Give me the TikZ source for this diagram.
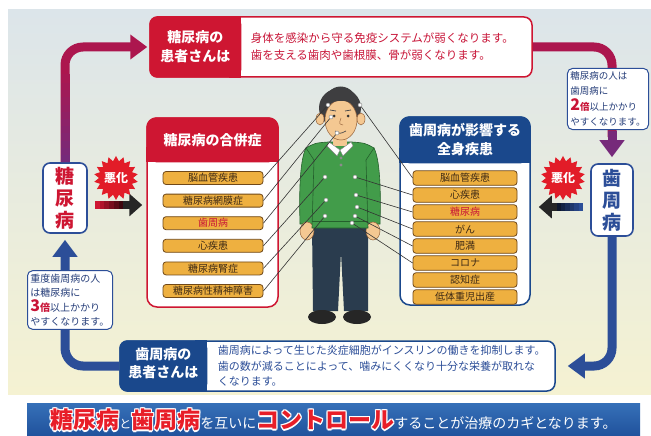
\documentclass[tikz,border=0pt]{standalone}
\usepackage{fontspec}
\setmainfont{Noto Sans CJK JP}
\usepackage{tikz}
\usetikzlibrary{arrows.meta, positioning, calc, shapes.geometric}

\definecolor{dmred}{RGB}{206, 22, 50}
\definecolor{txtred}{RGB}{200, 20, 55}
\definecolor{burstred}{RGB}{226, 28, 40}
\definecolor{bannerred}{RGB}{232, 30, 40}
\definecolor{pdblue}{RGB}{26, 72, 140}
\definecolor{lineblue}{RGB}{44, 78, 152}
\definecolor{noteblue}{RGB}{36, 60, 120}
\definecolor{magline}{RGB}{172, 22, 78}
\definecolor{purpline}{RGB}{118, 42, 122}
\definecolor{itemfill}{RGB}{238, 176, 64}
\definecolor{itembrown}{RGB}{112, 72, 24}
\definecolor{itemtext}{RGB}{60, 40, 20}
\definecolor{panetop}{RGB}{220, 229, 234}
\definecolor{panemid}{RGB}{232, 237, 222}
\definecolor{panebot}{RGB}{245, 242, 210}
\definecolor{bantop}{RGB}{54, 112, 184}
\definecolor{banbot}{RGB}{32, 82, 156}
\definecolor{sweater}{RGB}{66, 156, 74}
\definecolor{sweaterdark}{RGB}{36, 96, 44}
\definecolor{skin}{RGB}{244, 200, 146}
\definecolor{skindark}{RGB}{150, 100, 60}
\definecolor{hair}{RGB}{62, 62, 64}
\definecolor{pants}{RGB}{42, 60, 78}

\newcommand\fs[2]{\fontsize{#1}{#2}\selectfont}
% red lettering with a white rim
\newcommand\edged[1]{%
  \setbox0=\hbox{#1}%
  \rlap{\color{white}%
    \rlap{\kern1.4pt\copy0}\rlap{\kern-1.4pt\copy0}%
    \rlap{\raise1.4pt\copy0}\rlap{\lower1.4pt\copy0}%
    \rlap{\kern1pt\raise1pt\copy0}\rlap{\kern-1pt\raise1pt\copy0}%
    \rlap{\kern1pt\lower1pt\copy0}\rlap{\kern-1pt\lower1pt\copy0}}%
  {\color{bannerred}\copy0}}

\tikzset{
  panelbox/.style={rounded corners=8pt, fill=white, line width=1.5pt, inner sep=0pt},
  headtext/.style={text=white, font=\fs{14}{19}\bfseries, align=center, inner sep=0pt},
  ailment/.style={draw=itembrown, fill=itemfill, rounded corners=3pt, line width=0.8pt,
    minimum width=100pt, minimum height=13pt, inner sep=0pt, font=\fs{10}{12}},
  sidebox/.style={draw=lineblue, fill=white, line width=1.6pt, rounded corners=7pt,
    minimum width=44pt, minimum height=70pt, inner sep=0pt, align=center,
    text=dmred, font=\fs{19}{22}\bfseries},
  notebox/.style={draw=lineblue, fill=white, line width=1pt, rounded corners=5pt,
    align=left, inner sep=3pt, text=noteblue},
  burst/.style={star, star points=18, star point ratio=1.3, fill=burstred,
    minimum size=42pt, inner sep=0pt, text=white, font=\fs{12}{12}\bfseries},
  flow/.style={line width=9pt, rounded corners=18pt},
  spot/.style={circle, fill=white, draw=black!50, line width=0.4pt, inner sep=0pt, minimum size=4pt},
  wire/.style={draw=black!80, line width=0.6pt},
  bigtip/.style={-{Triangle[width=24pt,length=17pt]}}
}

\begin{document}
\begin{tikzpicture}[x=1pt, y=-1pt]
  \useasboundingbox (0,0) rectangle (651,436);

  % backdrop and banner strip
  \shade[top color=panetop, middle color=panemid, bottom color=panebot] (8,10) rectangle (651,394);
  \shade[top color=bantop, bottom color=banbot] (27,403) rectangle (640,436);

  % side boxes
  \node[sidebox] (toubox) at (65,198) {糖\\尿\\病};
  \node[sidebox, text=lineblue, minimum width=42pt, minimum height=72pt] (shibox) at (612,200) {歯\\周\\病};

  % main boxes
  \node[panelbox, draw=dmred, minimum width=382pt, minimum height=60pt] (topbox) at (341,47) {};
  \node[panelbox, draw=pdblue, minimum width=435pt, minimum height=50pt] (botbox) at (337.5,366) {};
  \node[panelbox, draw=dmred, rounded corners=10pt, minimum width=131pt, minimum height=189pt] (cmpL) at (212.5,212.5) {};
  \node[panelbox, draw=pdblue, rounded corners=10pt, minimum width=130pt, minimum height=188pt] (cmpR) at (465,211) {};

  % cycle of arrows round the figure
  \coordinate (cornerL) at (toubox.north |- topbox.west);
  \coordinate (cornerR) at (shibox.north |- topbox.east);
  \coordinate (cornerBL) at (toubox.south |- botbox.west);
  \coordinate (cornerBR) at (shibox.south |- botbox.east);
  \draw[flow, magline, bigtip, shorten >=2pt] (toubox.north) -- (cornerL) -- (topbox.west);
  \foreach \k in {0,...,11} {
    \pgfmathsetmacro\fa{\k/16}
    \pgfmathsetmacro\fb{(\k+1.3)/16}
    \pgfmathtruncatemacro\mix{100-\k*100/12}
    \draw[line width=9pt, purpline!\mix!magline] ($(toubox.north)!\fa!(cornerL)$) -- ($(toubox.north)!\fb!(cornerL)$);
  }
  \draw[flow, magline] (topbox.east) -- (cornerR) -- ($(cornerR)+(0,90)$);
  \draw[line width=9pt, purpline, bigtip, shorten >=6pt] ($(cornerR)+(0,84)$) -- (shibox.north);
  \draw[flow, lineblue, bigtip, shorten >=6pt] (botbox.west) -- (cornerBL) -- (toubox.south);
  \draw[flow, lineblue, bigtip, shorten >=12pt] (shibox.south) -- (cornerBR) -- (botbox.east);

  % risk notes on the arrows
  \node[notebox, font=\fs{9.5}{15.5}] (calR) at (608,99)
    {糖尿病の人は\\歯周病に\\{\color{txtred}\fs{16}{16}\bfseries 2}{\color{txtred}\bfseries 倍}以上かかり\\やすくなります。};
  \node[notebox, font=\fs{10}{14.5}] (calL) at (70,300)
    {重度歯周病の人\\は糖尿病に\\{\color{txtred}\fs{16}{16}\bfseries 3}{\color{txtred}\bfseries 倍}以上かかり\\やすくなります。};

  % worsening arrows
  \coordinate (hL0) at ($(toubox.east)+(7,7)$);
  \coordinate (hL1) at ($(cmpL.west |- hL0)+(-4,0)$);
  \foreach \k in {0,...,6} {
    \pgfmathsetmacro\fa{\k*0.1}
    \pgfmathsetmacro\fb{\k*0.1+0.12}
    \pgfmathtruncatemacro\mix{100-\k*14}
    \draw[line width=8pt, dmred!\mix!black] ($(hL0)!\fa!(hL1)$) -- ($(hL0)!\fb!(hL1)$);
  }
  \draw[line width=8pt, black!85, -{Triangle[width=22pt,length=13pt]}] ($(hL0)!0.6!(hL1)$) -- (hL1);
  \coordinate (hR0) at ($(shibox.west)+(-7,7)$);
  \coordinate (hR1) at ($(cmpR.east |- hR0)+(8,0)$);
  \foreach \k in {0,...,6} {
    \pgfmathsetmacro\fa{\k*0.1}
    \pgfmathsetmacro\fb{\k*0.1+0.12}
    \pgfmathtruncatemacro\mix{100-\k*14}
    \draw[line width=8pt, lineblue!\mix!black] ($(hR0)!\fa!(hR1)$) -- ($(hR0)!\fb!(hR1)$);
  }
  \draw[line width=8pt, black!85, -{Triangle[width=22pt,length=13pt]}] ($(hR0)!0.6!(hR1)$) -- (hR1);
  \node[burst] (burstL) at (116,178) {悪化};
  \node[burst] (burstR) at (563,178) {悪化};

  % top box
  \fill[dmred, rounded corners=8pt] (topbox.north west) rectangle ($(topbox.south west)+(92,0)$);
  \fill[dmred] ($(topbox.north west)+(80,0)$) rectangle ($(topbox.south west)+(92,0)$);
  \node[headtext] (tophead) at ($(topbox.west)+(46,0)$) {糖尿病の\\患者さんは};
  \node[anchor=west, text=txtred, align=left, font=\fs{11.5}{17}] (topnote) at ($(topbox.west)+(98,0)$)
    {身体を感染から守る免疫システムが弱くなります。\\歯を支える歯肉や歯根膜、骨が弱くなります。};

  % bottom box
  \fill[pdblue, rounded corners=8pt] (botbox.north west) rectangle ($(botbox.south west)+(88,0)$);
  \fill[pdblue] ($(botbox.north west)+(76,0)$) rectangle ($(botbox.south west)+(88,0)$);
  \node[headtext, font=\fs{14}{18}\bfseries] (bothead) at ($(botbox.west)+(44,-3)$) {歯周病の\\患者さんは};
  \node[anchor=west, text=lineblue, align=left, font=\fs{11}{15.5}] (botnote) at ($(botbox.west)+(95,0)$)
    {歯周病によって生じた炎症細胞がインスリンの働きを抑制します。\\歯の数が減ることによって、噛みにくくなり十分な栄養が取れな\\くなります。};

  % complications of diabetes
  \fill[dmred, rounded corners=10pt] (cmpL.north west) rectangle ($(cmpL.north east)+(0,45)$);
  \fill[dmred] ($(cmpL.north west)+(0,30)$) rectangle ($(cmpL.north east)+(0,45)$);
  \node[headtext] (cmpLtitle) at ($(cmpL.north)+(0,23)$) {糖尿病の合併症};
  \foreach \txt/\col [count=\i] in {脳血管疾患/itemtext, 糖尿病網膜症/itemtext, 歯周病/txtred,
      心疾患/itemtext, 糖尿病腎症/itemtext, 糖尿病性精神障害/itemtext}
    \node[ailment, text=\col] (l\i) at (213, {155.4+22.6*\i}) {\txt};

  % diseases linked to gum disease
  \fill[pdblue, rounded corners=10pt] (cmpR.north west) rectangle ($(cmpR.north east)+(0,47)$);
  \fill[pdblue] ($(cmpR.north west)+(0,32)$) rectangle ($(cmpR.north east)+(0,47)$);
  \node[headtext] (cmpRtitle) at ($(cmpR.north)+(0,23)$) {歯周病が影響する\\全身疾患};
  \foreach \txt/\col [count=\i] in {脳血管疾患/itemtext, 心疾患/itemtext, 糖尿病/txtred, がん/itemtext,
      肥満/itemtext, コロナ/itemtext, 認知症/itemtext, 低体重児出産/itemtext}
    \node[ailment, text=\col, minimum width=104pt, minimum height=14.5pt] (r\i) at (465, {161+17*\i}) {\txt};

  % the patient
  \fill[pants] (312,224) -- (368,224) -- (368,311) -- (344,311) -- (341,252) -- (338,311) -- (313,311) -- cycle;
  \fill[black!85] (322,317) ellipse (14 and 7);
  \fill[black!85] (357,317) ellipse (14 and 7);
  \filldraw[fill=sweater, draw=sweaterdark, line width=0.6pt]
    (306,148) .. controls (300,160) and (299,190) .. (300,224) -- (314,224) -- (318,160) -- cycle;
  \filldraw[fill=sweater, draw=sweaterdark, line width=0.6pt]
    (374,148) .. controls (380,160) and (381,190) .. (380,224) -- (366,224) -- (362,160) -- cycle;
  \filldraw[fill=skin, draw=skindark, line width=0.5pt] (307,231) ellipse (7 and 9);
  \filldraw[fill=skin, draw=skindark, line width=0.5pt] (373,231) ellipse (7 and 9);
  \filldraw[fill=sweater, draw=sweaterdark, line width=0.6pt]
    (306,148) .. controls (315,143) .. (328,142) -- (352,142) .. controls (365,143) .. (374,148)
    -- (366,160) -- (368,228) -- (312,228) -- (314,160) -- cycle;
  \draw[sweaterdark, line width=0.5pt] (312,221) -- (368,221);
  \fill[skin] (333,128) rectangle (347,146);
  \filldraw[fill=white, draw=black!50, line width=0.4pt] (329,142) -- (340,150) -- (337,156) -- (327,146) -- cycle;
  \filldraw[fill=white, draw=black!50, line width=0.4pt] (351,142) -- (340,150) -- (343,156) -- (353,146) -- cycle;
  \fill[black!45] (341,158) circle (1.6);
  \fill[black!45] (341,165) circle (1.6);
  \fill[hair] (340,108) ellipse (21 and 20);
  \filldraw[fill=skin, draw=skindark, line width=0.5pt] (320,119) ellipse (4 and 6);
  \filldraw[fill=skin, draw=skindark, line width=0.5pt] (361,119) ellipse (4 and 6);
  \filldraw[fill=skin, draw=skindark, line width=0.5pt] (341,120) ellipse (16 and 20);
  \fill[hair] (323,112) .. controls (321,78) and (360,78) .. (359,112)
    .. controls (355,102) and (345,100) .. (338,101) .. controls (330,102) and (326,106) .. (323,112) -- cycle;
  \draw[black!70, line width=0.8pt] (330,110) -- (336,111);
  \draw[black!70, line width=0.8pt] (345,111) -- (351,110);
  \fill[black!80] (334,116) circle (1.5);
  \fill[black!80] (348,116) circle (1.5);
  \draw[skindark, line width=0.5pt] (341,118) .. controls (339,124) .. (343,125);
  \draw[black!70, line width=0.7pt] (335,131) .. controls (340,134) .. (346,131);

  % points on the body
  \node[spot] (hL1) at (328,105) {};
  \node[spot] (hL2) at (331,117) {};
  \node[spot] (hL3) at (337,133) {};
  \node[spot] (bL1) at (325,177) {};
  \node[spot] (bL2) at (326,200) {};
  \node[spot] (bL3) at (325,216) {};
  \node[spot] (hR1) at (360,105) {};
  \node[spot] (bR1) at (355,177) {};
  \node[spot] (bR2) at (356,195) {};
  \node[spot] (bR3) at (357,207) {};
  \node[spot] (bR4) at (355,216) {};
  \node[spot] (bR5) at (352,223) {};
  \foreach \a/\b in {l1/hL1, l2/hL2, l3/hL3, l4/bL1, l5/bL2, l6/bL3}
    \draw[wire] (\a.east) -- (\b);
  \foreach \a/\b in {r1/hR1, r2/bR1, r3/bR2, r4/bR3, r5/bR4, r6/bR5}
    \draw[wire] (\a.west) -- (\b);

  % closing message
  \node[text=white, font=\fs{14}{16}, inner sep=0pt] (motto) at (333.5,420)
    {\edged{\fs{23}{24}\bfseries 糖尿病}{\fs{12}{14}と}\edged{\fs{23}{24}\bfseries 歯周病}を互いに\edged{\fs{23}{24}\bfseries コントロール}することが治療のカギとなります。};
\end{tikzpicture}
\end{document}
